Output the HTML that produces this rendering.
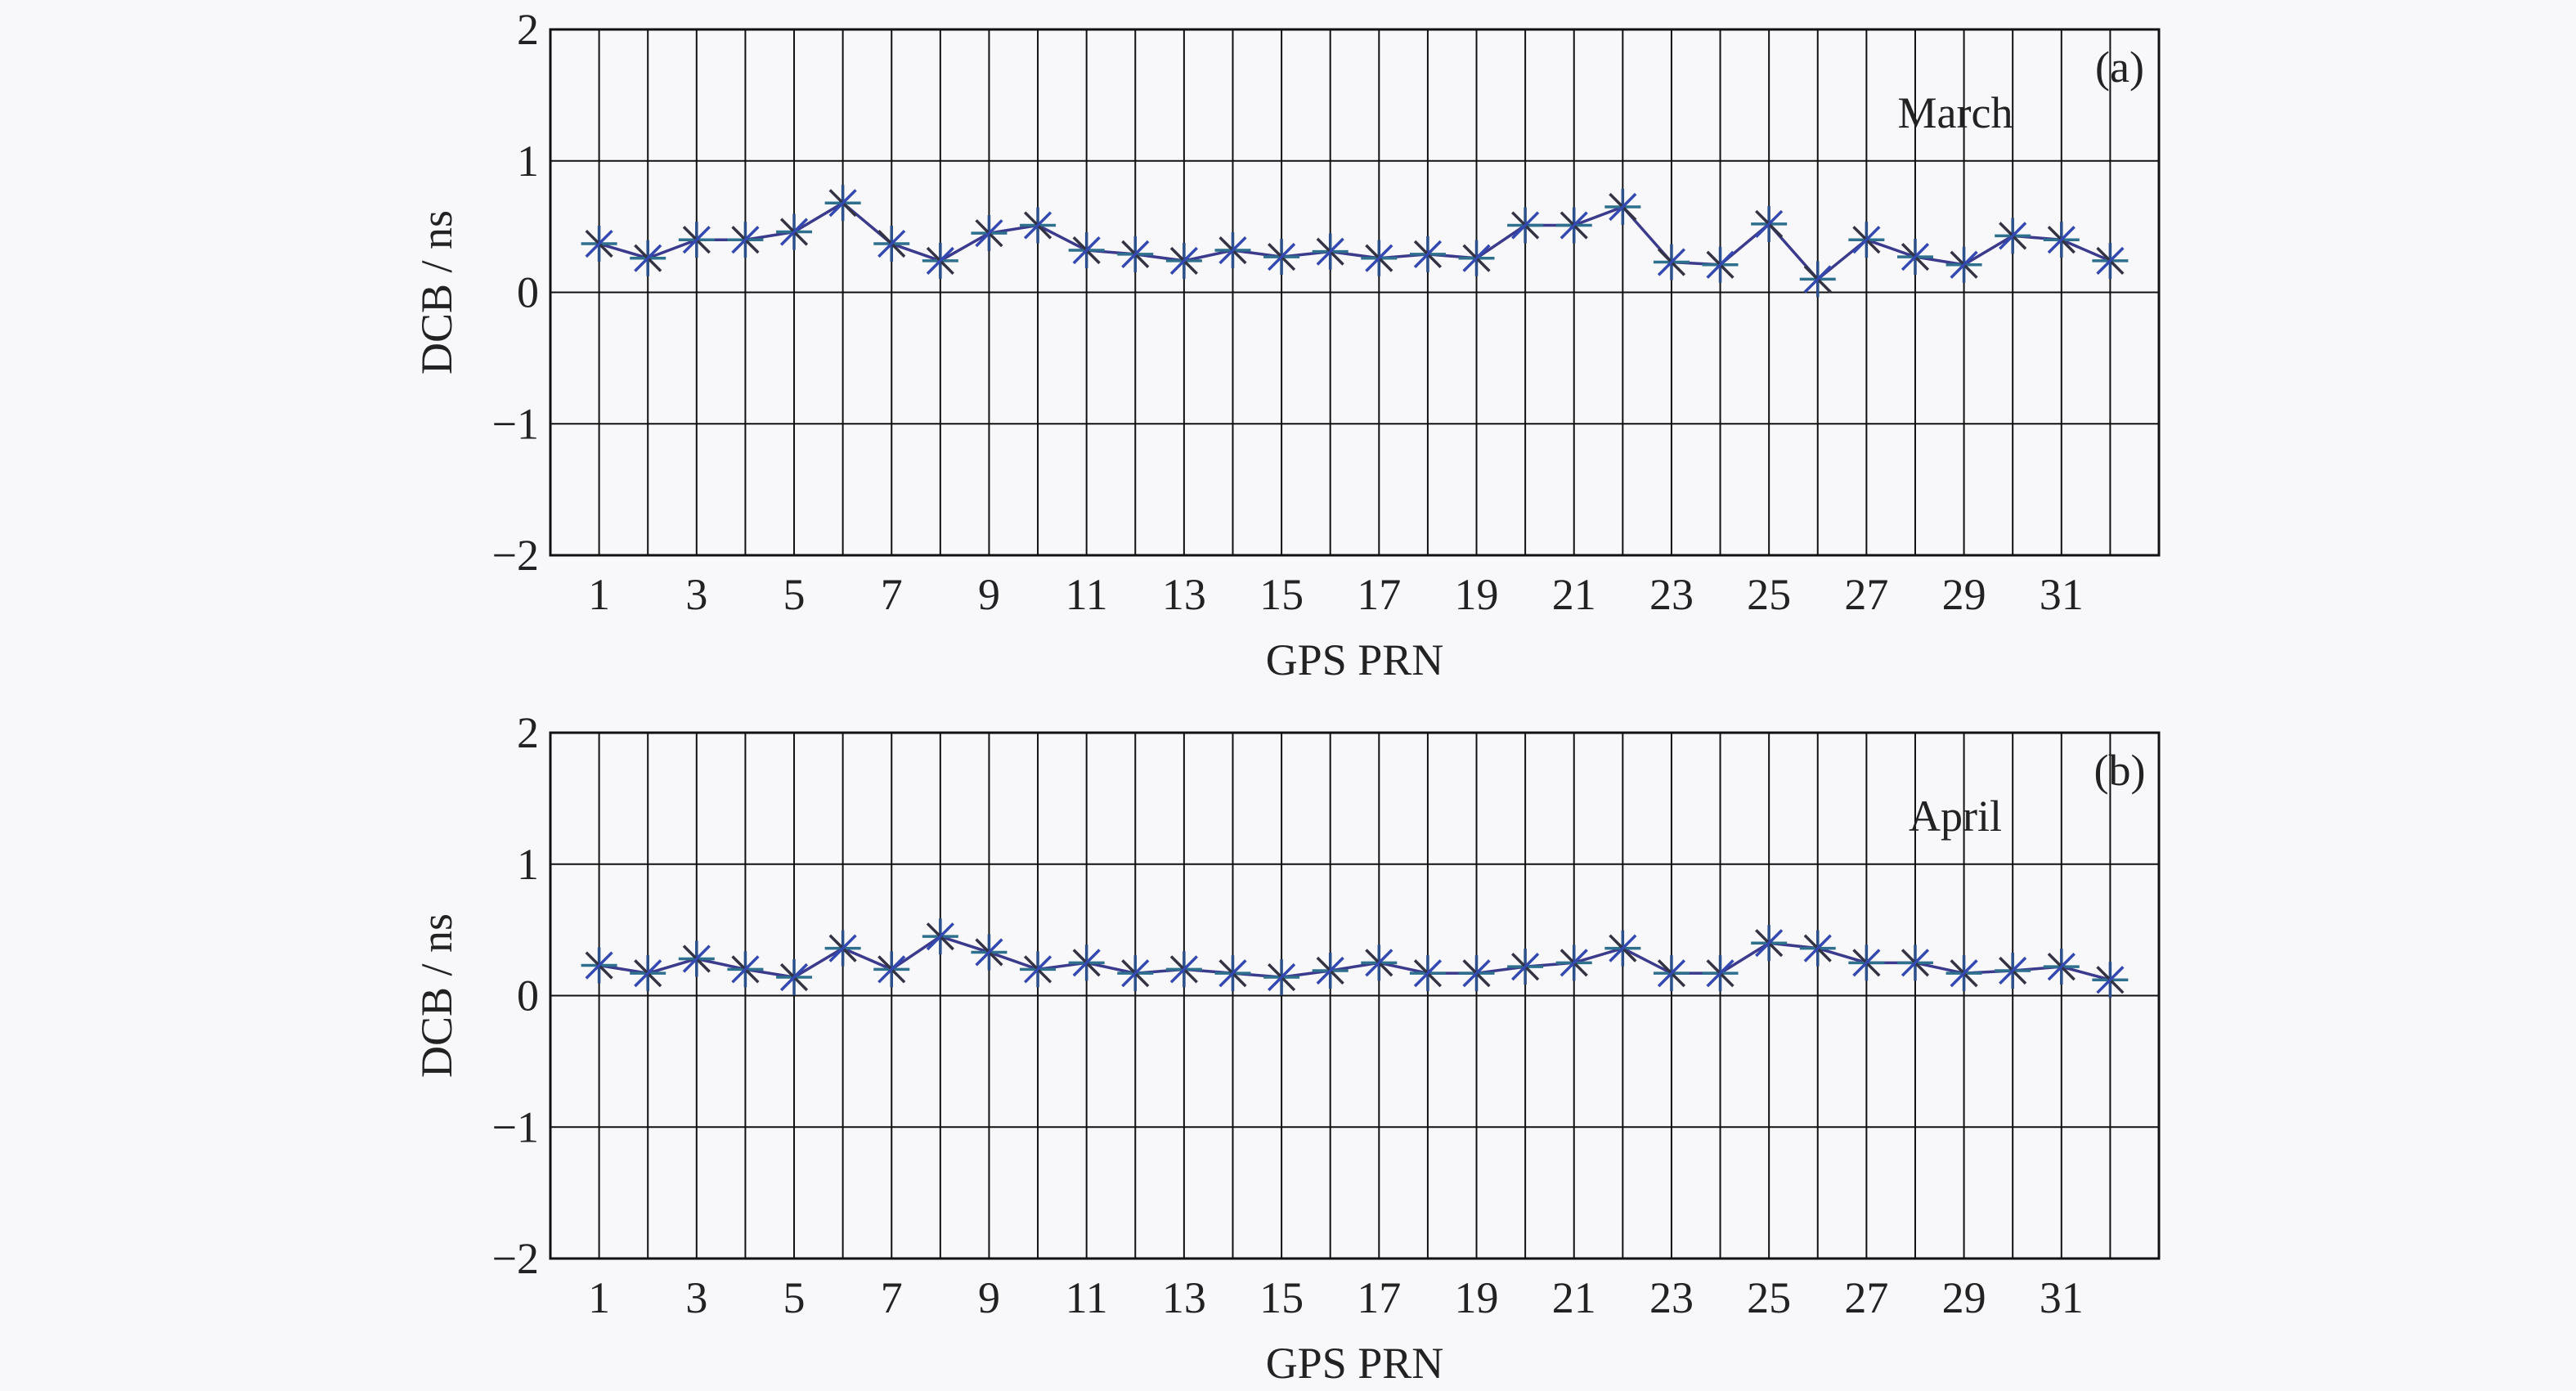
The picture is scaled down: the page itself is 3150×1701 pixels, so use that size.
<!DOCTYPE html>
<html><head><meta charset="utf-8"><style>
html,body{margin:0;padding:0;background:#f8f8fa;}
svg{display:block;font-family:"Liberation Serif",serif;}
</style></head><body>
<svg id="chart" width="3150" height="1701" viewBox="0 0 3150 1701" xmlns="http://www.w3.org/2000/svg">
<rect width="3150" height="1701" fill="#f8f8fa"/>
</svg>
<script>
const prn = [1,2,3,4,5,6,7,8,9,10,11,12,13,14,15,16,17,18,19,20,21,22,23,24,25,26,27,28,29,30,31,32];
const marchDCB = [0.37,0.26,0.40,0.40,0.46,0.68,0.37,0.24,0.45,0.51,0.32,0.29,0.24,0.32,0.27,0.31,0.26,0.29,0.26,0.51,0.51,0.65,0.23,0.21,0.52,0.10,0.40,0.27,0.21,0.43,0.40,0.24];
const aprilDCB = [0.23,0.17,0.28,0.20,0.14,0.36,0.20,0.45,0.33,0.20,0.25,0.17,0.20,0.17,0.14,0.19,0.25,0.17,0.17,0.22,0.25,0.36,0.17,0.17,0.40,0.36,0.25,0.25,0.17,0.19,0.22,0.12];
const yTicks = [-2,-1,0,1,2];
const xTickLabels = [1,3,5,7,9,11,13,15,17,19,21,23,25,27,29,31];
const panels = [
  {name:'march', top:36, letter:'(a)', month:'March', data:marchDCB},
  {name:'april', top:896, letter:'(b)', month:'April', data:aprilDCB}
];
const svg = document.getElementById('chart');
const NS = 'http://www.w3.org/2000/svg';
const L = 673, R = 2640, H = 643, FS = 54;
function mk(tag, attrs, parent){
  const e = document.createElementNS(NS, tag);
  for (const k in attrs) e.setAttribute(k, attrs[k]);
  (parent||svg).appendChild(e);
  return e;
}
panels.forEach(p => {
  const g = mk('g', {});
  
  
  const x = v => L + (v / 33) * (R - L);
  const y = v => p.top + (2 - v) / 4 * H;
  prn.forEach(v => {
    const ln = mk('line', {x1:x(v), x2:x(v), y1:p.top, y2:p.top+H, stroke:'#111', 'stroke-width':2}, g);
    
    
  });
  yTicks.forEach(v => {
    const ln = mk('line', {x1:L, x2:R, y1:y(v), y2:y(v), stroke:'#111', 'stroke-width':2}, g);
    
    
    const t = mk('text', {x:L-14, y:y(v)+18, 'text-anchor':'end', 'font-size':FS, fill:'#222'}, g);
    t.textContent = v < 0 ? '\u2212' + Math.abs(v) : String(v);
    
    
  });
  const fr = mk('rect', {x:L, y:p.top, width:R-L, height:H, fill:'none', stroke:'#111', 'stroke-width':3}, g);
  
  
  xTickLabels.forEach(v => {
    const t = mk('text', {x:x(v), y:p.top+H+66, 'text-anchor':'middle', 'font-size':FS, fill:'#222'}, g);
    t.textContent = String(v);
    
    
  });
  const xt = mk('text', {x:(L+R)/2, y:p.top+H+146, 'text-anchor':'middle', 'font-size':FS, fill:'#222'}, g);
  xt.textContent = 'GPS PRN';
  
  
  const cy = p.top + H/2 - juggle();
  function juggle(){ return 0; }
  const yt = mk('text', {x:552, y:cy, 'text-anchor':'middle', 'font-size':FS, fill:'#222', transform:'rotate(-90 552 '+cy+')'}, g);
  yt.textContent = 'DCB / ns';
  
  
  const lt = mk('text', {x:2592, y:p.top+64, 'text-anchor':'middle', 'font-size':FS, fill:'#222'}, g);
  lt.textContent = p.letter;
  
  
  const mt = mk('text', {x:2391, y:p.top+120, 'text-anchor':'middle', 'font-size':FS, fill:'#222'}, g);
  mt.textContent = p.month;
  
  
  const pts = p.data.map((v,i) => x(prn[i]) + ',' + y(v)).join(' ');
  const pl = mk('polyline', {points:pts, fill:'none', stroke:'#3b3a8c', 'stroke-width':3.5}, g);
  
  
  p.data.forEach((v,i) => {
    const cx = x(prn[i]), yy = y(v), r = 22;
    const m = mk('g', {stroke:'#2a4f8a', 'stroke-width':3.5}, g);
    
    
    mk('line', {x1:cx-r, x2:cx+r, y1:yy, y2:yy, stroke:'#2e6f8e'}, m);
    mk('line', {x1:cx, x2:cx, y1:yy-r, y2:yy+r}, m);
    mk('line', {x1:cx-r*0.72, x2:cx+r*0.72, y1:yy-r*0.72, y2:yy+r*0.72, stroke:'#334'}, m);
    mk('line', {x1:cx-r*0.72, x2:cx+r*0.72, y1:yy+r*0.72, y2:yy-r*0.72, stroke:'#3348b0'}, m);
  });
});
</script>
</body></html>
